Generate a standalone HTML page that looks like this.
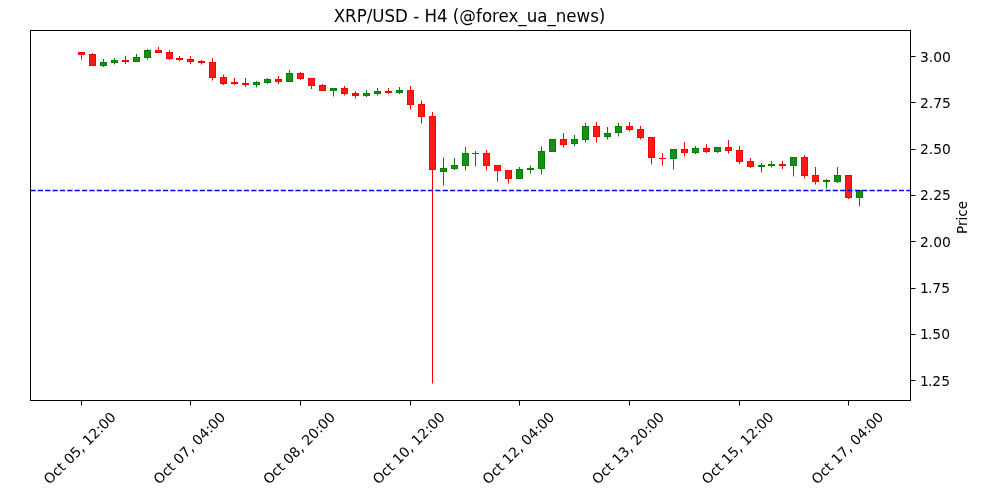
<!DOCTYPE html>
<html lang="en">
<head>
<meta charset="utf-8">
<title>XRP/USD - H4 (@forex_ua_news)</title>
<style>
html,body{margin:0;padding:0;background:#ffffff;}
body{width:1000px;height:500px;overflow:hidden;}
svg{display:block;}
text{font-family:"DejaVu Sans","Liberation Sans",sans-serif;fill:#000000;}
.t10{font-size:13.89px;}
.t12{font-size:16.67px;}
</style>
</head>
<body>
<svg width="1000" height="500" viewBox="0 0 1000 500">
<rect x="0" y="0" width="1000" height="500" fill="#ffffff"/>

<g shape-rendering="crispEdges">
<rect x="81" y="52" width="1" height="7.5" fill="#ff0000" shape-rendering="auto"/>
<rect x="78" y="52" width="7" height="3" fill="#ff0000"/>
<rect x="79" y="53" width="5" height="1" fill="#ff1a1a"/>
<rect x="92" y="53" width="1" height="13" fill="#ff0000" shape-rendering="auto"/>
<rect x="89" y="54" width="7" height="12" fill="#ff0000"/>
<rect x="90" y="55" width="5" height="10" fill="#ff1a1a"/>
<rect x="103" y="59" width="1" height="8" fill="#008000" shape-rendering="auto"/>
<rect x="100" y="62" width="7" height="4" fill="#008000"/>
<rect x="101" y="63" width="5" height="2" fill="#1a8d1a"/>
<rect x="114" y="58" width="1" height="6.5" fill="#008000" shape-rendering="auto"/>
<rect x="111" y="60" width="7" height="3" fill="#008000"/>
<rect x="112" y="61" width="5" height="1" fill="#1a8d1a"/>
<rect x="125" y="56" width="1" height="8" fill="#ff0000" shape-rendering="auto"/>
<rect x="122" y="60" width="7" height="2" fill="#ff0000"/>
<rect x="136" y="54" width="1" height="8" fill="#008000" shape-rendering="auto"/>
<rect x="133" y="57" width="7" height="5" fill="#008000"/>
<rect x="134" y="58" width="5" height="3" fill="#1a8d1a"/>
<rect x="147" y="49" width="1" height="10.5" fill="#008000" shape-rendering="auto"/>
<rect x="144" y="50" width="7" height="8" fill="#008000"/>
<rect x="145" y="51" width="5" height="6" fill="#1a8d1a"/>
<rect x="158" y="47" width="1" height="6" fill="#ff0000" shape-rendering="auto"/>
<rect x="155" y="50" width="7" height="3" fill="#ff0000"/>
<rect x="156" y="51" width="5" height="1" fill="#ff1a1a"/>
<rect x="169" y="50" width="1" height="10" fill="#ff0000" shape-rendering="auto"/>
<rect x="166" y="52" width="7" height="7" fill="#ff0000"/>
<rect x="167" y="53" width="5" height="5" fill="#ff1a1a"/>
<rect x="179" y="56" width="1" height="5" fill="#ff0000" shape-rendering="auto"/>
<rect x="176" y="58" width="7" height="2" fill="#ff0000"/>
<rect x="190" y="56" width="1" height="8" fill="#ff0000" shape-rendering="auto"/>
<rect x="187" y="59" width="7" height="3" fill="#ff0000"/>
<rect x="188" y="60" width="5" height="1" fill="#ff1a1a"/>
<rect x="201" y="60" width="1" height="4.5" fill="#ff0000" shape-rendering="auto"/>
<rect x="198" y="61" width="7" height="2" fill="#ff0000"/>
<rect x="212" y="58" width="1" height="22.5" fill="#ff0000" shape-rendering="auto"/>
<rect x="209" y="62" width="7" height="16" fill="#ff0000"/>
<rect x="210" y="63" width="5" height="14" fill="#ff1a1a"/>
<rect x="223" y="74.5" width="1" height="10.5" fill="#ff0000" shape-rendering="auto"/>
<rect x="220" y="77" width="7" height="7" fill="#ff0000"/>
<rect x="221" y="78" width="5" height="5" fill="#ff1a1a"/>
<rect x="234" y="78" width="1" height="7" fill="#ff0000" shape-rendering="auto"/>
<rect x="231" y="82" width="7" height="2" fill="#ff0000"/>
<rect x="245" y="78" width="1" height="9" fill="#ff0000" shape-rendering="auto"/>
<rect x="242" y="83" width="7" height="2" fill="#ff0000"/>
<rect x="256" y="81" width="1" height="6.5" fill="#008000" shape-rendering="auto"/>
<rect x="253" y="82" width="7" height="3" fill="#008000"/>
<rect x="254" y="83" width="5" height="1" fill="#1a8d1a"/>
<rect x="267" y="78" width="1" height="6" fill="#008000" shape-rendering="auto"/>
<rect x="264" y="79" width="7" height="4" fill="#008000"/>
<rect x="265" y="80" width="5" height="2" fill="#1a8d1a"/>
<rect x="278" y="76" width="1" height="8" fill="#ff0000" shape-rendering="auto"/>
<rect x="275" y="79" width="7" height="3" fill="#ff0000"/>
<rect x="276" y="80" width="5" height="1" fill="#ff1a1a"/>
<rect x="289" y="70" width="1" height="12" fill="#008000" shape-rendering="auto"/>
<rect x="286" y="73" width="7" height="9" fill="#008000"/>
<rect x="287" y="74" width="5" height="7" fill="#1a8d1a"/>
<rect x="300" y="72" width="1" height="8" fill="#ff0000" shape-rendering="auto"/>
<rect x="297" y="73" width="7" height="6" fill="#ff0000"/>
<rect x="298" y="74" width="5" height="4" fill="#ff1a1a"/>
<rect x="311" y="78" width="1" height="11" fill="#ff0000" shape-rendering="auto"/>
<rect x="308" y="78" width="7" height="8" fill="#ff0000"/>
<rect x="309" y="79" width="5" height="6" fill="#ff1a1a"/>
<rect x="322" y="84" width="1" height="7" fill="#ff0000" shape-rendering="auto"/>
<rect x="319" y="85" width="7" height="6" fill="#ff0000"/>
<rect x="320" y="86" width="5" height="4" fill="#ff1a1a"/>
<rect x="333" y="88" width="1" height="8.5" fill="#008000" shape-rendering="auto"/>
<rect x="330" y="88" width="7" height="3" fill="#008000"/>
<rect x="331" y="89" width="5" height="1" fill="#1a8d1a"/>
<rect x="344" y="86" width="1" height="9.5" fill="#ff0000" shape-rendering="auto"/>
<rect x="341" y="88" width="7" height="6" fill="#ff0000"/>
<rect x="342" y="89" width="5" height="4" fill="#ff1a1a"/>
<rect x="355" y="91" width="1" height="7.5" fill="#ff0000" shape-rendering="auto"/>
<rect x="352" y="93" width="7" height="3" fill="#ff0000"/>
<rect x="353" y="94" width="5" height="1" fill="#ff1a1a"/>
<rect x="366" y="90" width="1" height="7" fill="#008000" shape-rendering="auto"/>
<rect x="363" y="93" width="7" height="3" fill="#008000"/>
<rect x="364" y="94" width="5" height="1" fill="#1a8d1a"/>
<rect x="377" y="88" width="1" height="7.5" fill="#008000" shape-rendering="auto"/>
<rect x="374" y="91" width="7" height="3" fill="#008000"/>
<rect x="375" y="92" width="5" height="1" fill="#1a8d1a"/>
<rect x="388" y="88" width="1" height="6" fill="#ff0000" shape-rendering="auto"/>
<rect x="385" y="91" width="7" height="2" fill="#ff0000"/>
<rect x="399" y="87" width="1" height="7" fill="#008000" shape-rendering="auto"/>
<rect x="396" y="90" width="7" height="3" fill="#008000"/>
<rect x="397" y="91" width="5" height="1" fill="#1a8d1a"/>
<rect x="410" y="86" width="1" height="23.5" fill="#ff0000" shape-rendering="auto"/>
<rect x="407" y="90" width="7" height="15" fill="#ff0000"/>
<rect x="408" y="91" width="5" height="13" fill="#ff1a1a"/>
<rect x="421" y="100.5" width="1" height="23.0" fill="#ff0000" shape-rendering="auto"/>
<rect x="418" y="104" width="7" height="13" fill="#ff0000"/>
<rect x="419" y="105" width="5" height="11" fill="#ff1a1a"/>
<rect x="432" y="112" width="1" height="271.5" fill="#ff0000" shape-rendering="auto"/>
<rect x="429" y="116" width="7" height="54" fill="#ff0000"/>
<rect x="430" y="117" width="5" height="52" fill="#ff1a1a"/>
<rect x="443" y="157.5" width="1" height="28.0" fill="#008000" shape-rendering="auto"/>
<rect x="440" y="168" width="7" height="4" fill="#008000"/>
<rect x="441" y="169" width="5" height="2" fill="#1a8d1a"/>
<rect x="454" y="158" width="1" height="12" fill="#008000" shape-rendering="auto"/>
<rect x="451" y="165" width="7" height="4" fill="#008000"/>
<rect x="452" y="166" width="5" height="2" fill="#1a8d1a"/>
<rect x="465" y="147" width="1" height="23.5" fill="#008000" shape-rendering="auto"/>
<rect x="462" y="153" width="7" height="13" fill="#008000"/>
<rect x="463" y="154" width="5" height="11" fill="#1a8d1a"/>
<rect x="475" y="151" width="1" height="15.5" fill="#008000" shape-rendering="auto"/>
<rect x="472" y="152.5" width="7" height="1.0" fill="#008000"/>
<rect x="486" y="150" width="1" height="20.5" fill="#ff0000" shape-rendering="auto"/>
<rect x="483" y="153" width="7" height="13" fill="#ff0000"/>
<rect x="484" y="154" width="5" height="11" fill="#ff1a1a"/>
<rect x="497" y="165" width="1" height="16.5" fill="#ff0000" shape-rendering="auto"/>
<rect x="494" y="165" width="7" height="6" fill="#ff0000"/>
<rect x="495" y="166" width="5" height="4" fill="#ff1a1a"/>
<rect x="508" y="170" width="1" height="13.5" fill="#ff0000" shape-rendering="auto"/>
<rect x="505" y="170" width="7" height="9" fill="#ff0000"/>
<rect x="506" y="171" width="5" height="7" fill="#ff1a1a"/>
<rect x="519" y="167" width="1" height="12" fill="#008000" shape-rendering="auto"/>
<rect x="516" y="169" width="7" height="10" fill="#008000"/>
<rect x="517" y="170" width="5" height="8" fill="#1a8d1a"/>
<rect x="530" y="165.5" width="1" height="8.0" fill="#008000" shape-rendering="auto"/>
<rect x="527" y="168" width="7" height="2" fill="#008000"/>
<rect x="541" y="146.5" width="1" height="28.0" fill="#008000" shape-rendering="auto"/>
<rect x="538" y="151" width="7" height="18" fill="#008000"/>
<rect x="539" y="152" width="5" height="16" fill="#1a8d1a"/>
<rect x="552" y="139" width="1" height="13" fill="#008000" shape-rendering="auto"/>
<rect x="549" y="139" width="7" height="13" fill="#008000"/>
<rect x="550" y="140" width="5" height="11" fill="#1a8d1a"/>
<rect x="563" y="133" width="1" height="14.5" fill="#ff0000" shape-rendering="auto"/>
<rect x="560" y="139" width="7" height="6" fill="#ff0000"/>
<rect x="561" y="140" width="5" height="4" fill="#ff1a1a"/>
<rect x="574" y="135" width="1" height="11.5" fill="#008000" shape-rendering="auto"/>
<rect x="571" y="139" width="7" height="5" fill="#008000"/>
<rect x="572" y="140" width="5" height="3" fill="#1a8d1a"/>
<rect x="585" y="123" width="1" height="19.5" fill="#008000" shape-rendering="auto"/>
<rect x="582" y="126" width="7" height="14" fill="#008000"/>
<rect x="583" y="127" width="5" height="12" fill="#1a8d1a"/>
<rect x="596" y="122" width="1" height="20.5" fill="#ff0000" shape-rendering="auto"/>
<rect x="593" y="126" width="7" height="11" fill="#ff0000"/>
<rect x="594" y="127" width="5" height="9" fill="#ff1a1a"/>
<rect x="607" y="127" width="1" height="12.5" fill="#008000" shape-rendering="auto"/>
<rect x="604" y="133" width="7" height="4" fill="#008000"/>
<rect x="605" y="134" width="5" height="2" fill="#1a8d1a"/>
<rect x="618" y="123" width="1" height="13.5" fill="#008000" shape-rendering="auto"/>
<rect x="615" y="126" width="7" height="7" fill="#008000"/>
<rect x="616" y="127" width="5" height="5" fill="#1a8d1a"/>
<rect x="629" y="122" width="1" height="9.5" fill="#ff0000" shape-rendering="auto"/>
<rect x="626" y="126" width="7" height="4" fill="#ff0000"/>
<rect x="627" y="127" width="5" height="2" fill="#ff1a1a"/>
<rect x="640" y="126" width="1" height="13.5" fill="#ff0000" shape-rendering="auto"/>
<rect x="637" y="129" width="7" height="9" fill="#ff0000"/>
<rect x="638" y="130" width="5" height="7" fill="#ff1a1a"/>
<rect x="651" y="137" width="1" height="27.5" fill="#ff0000" shape-rendering="auto"/>
<rect x="648" y="137" width="7" height="21" fill="#ff0000"/>
<rect x="649" y="138" width="5" height="19" fill="#ff1a1a"/>
<rect x="662" y="153" width="1" height="12.5" fill="#ff0000" shape-rendering="auto"/>
<rect x="659" y="158" width="7" height="1" fill="#ff0000"/>
<rect x="673" y="149" width="1" height="20.5" fill="#008000" shape-rendering="auto"/>
<rect x="670" y="149" width="7" height="10" fill="#008000"/>
<rect x="671" y="150" width="5" height="8" fill="#1a8d1a"/>
<rect x="684" y="142" width="1" height="14.5" fill="#ff0000" shape-rendering="auto"/>
<rect x="681" y="149" width="7" height="4" fill="#ff0000"/>
<rect x="682" y="150" width="5" height="2" fill="#ff1a1a"/>
<rect x="695" y="146" width="1" height="8" fill="#008000" shape-rendering="auto"/>
<rect x="692" y="148" width="7" height="5" fill="#008000"/>
<rect x="693" y="149" width="5" height="3" fill="#1a8d1a"/>
<rect x="706" y="144" width="1" height="9" fill="#ff0000" shape-rendering="auto"/>
<rect x="703" y="148" width="7" height="4" fill="#ff0000"/>
<rect x="704" y="149" width="5" height="2" fill="#ff1a1a"/>
<rect x="717" y="147" width="1" height="6" fill="#008000" shape-rendering="auto"/>
<rect x="714" y="147" width="7" height="5" fill="#008000"/>
<rect x="715" y="148" width="5" height="3" fill="#1a8d1a"/>
<rect x="728" y="140" width="1" height="13.5" fill="#ff0000" shape-rendering="auto"/>
<rect x="725" y="147" width="7" height="4" fill="#ff0000"/>
<rect x="726" y="148" width="5" height="2" fill="#ff1a1a"/>
<rect x="739" y="146" width="1" height="18" fill="#ff0000" shape-rendering="auto"/>
<rect x="736" y="150" width="7" height="12" fill="#ff0000"/>
<rect x="737" y="151" width="5" height="10" fill="#ff1a1a"/>
<rect x="750" y="158" width="1" height="10" fill="#ff0000" shape-rendering="auto"/>
<rect x="747" y="161" width="7" height="6" fill="#ff0000"/>
<rect x="748" y="162" width="5" height="4" fill="#ff1a1a"/>
<rect x="761" y="163" width="1" height="9.5" fill="#008000" shape-rendering="auto"/>
<rect x="758" y="165" width="7" height="2" fill="#008000"/>
<rect x="771" y="161" width="1" height="6.5" fill="#008000" shape-rendering="auto"/>
<rect x="768" y="164" width="7" height="2" fill="#008000"/>
<rect x="782" y="161" width="1" height="8" fill="#ff0000" shape-rendering="auto"/>
<rect x="779" y="164" width="7" height="2" fill="#ff0000"/>
<rect x="793" y="157" width="1" height="19.5" fill="#008000" shape-rendering="auto"/>
<rect x="790" y="157" width="7" height="9" fill="#008000"/>
<rect x="791" y="158" width="5" height="7" fill="#1a8d1a"/>
<rect x="804" y="155" width="1" height="23.5" fill="#ff0000" shape-rendering="auto"/>
<rect x="801" y="157" width="7" height="19" fill="#ff0000"/>
<rect x="802" y="158" width="5" height="17" fill="#ff1a1a"/>
<rect x="815" y="167" width="1" height="17.5" fill="#ff0000" shape-rendering="auto"/>
<rect x="812" y="175" width="7" height="7" fill="#ff0000"/>
<rect x="813" y="176" width="5" height="5" fill="#ff1a1a"/>
<rect x="826" y="179" width="1" height="9.5" fill="#008000" shape-rendering="auto"/>
<rect x="823" y="180" width="7" height="2" fill="#008000"/>
<rect x="837" y="167" width="1" height="16" fill="#008000" shape-rendering="auto"/>
<rect x="834" y="175" width="7" height="7" fill="#008000"/>
<rect x="835" y="176" width="5" height="5" fill="#1a8d1a"/>
<rect x="848" y="175" width="1" height="24" fill="#ff0000" shape-rendering="auto"/>
<rect x="845" y="175" width="7" height="23" fill="#ff0000"/>
<rect x="846" y="176" width="5" height="21" fill="#ff1a1a"/>
<rect x="859" y="190" width="1" height="16.5" fill="#008000" shape-rendering="auto"/>
<rect x="856" y="190" width="7" height="8" fill="#008000"/>
<rect x="857" y="191" width="5" height="6" fill="#1a8d1a"/>
</g>
<line x1="30.5" y1="190.5" x2="910.5" y2="190.5" stroke="#0000ff" stroke-width="1.39" stroke-dasharray="5.14 2.22"/>
<g shape-rendering="crispEdges" fill="#000000">
<rect x="30" y="30" width="881" height="1"/>
<rect x="30" y="400" width="881" height="1"/>
<rect x="30" y="30" width="1" height="371"/>
<rect x="910" y="30" width="1" height="371"/>
<rect x="911" y="56" width="4.5" height="1" shape-rendering="auto"/>
<rect x="911" y="102" width="4.5" height="1" shape-rendering="auto"/>
<rect x="911" y="149" width="4.5" height="1" shape-rendering="auto"/>
<rect x="911" y="195" width="4.5" height="1" shape-rendering="auto"/>
<rect x="911" y="241" width="4.5" height="1" shape-rendering="auto"/>
<rect x="911" y="288" width="4.5" height="1" shape-rendering="auto"/>
<rect x="911" y="334" width="4.5" height="1" shape-rendering="auto"/>
<rect x="911" y="380" width="4.5" height="1" shape-rendering="auto"/>
<rect x="81" y="401" width="1" height="4.5" shape-rendering="auto"/>
<rect x="190" y="401" width="1" height="4.5" shape-rendering="auto"/>
<rect x="300" y="401" width="1" height="4.5" shape-rendering="auto"/>
<rect x="410" y="401" width="1" height="4.5" shape-rendering="auto"/>
<rect x="519" y="401" width="1" height="4.5" shape-rendering="auto"/>
<rect x="629" y="401" width="1" height="4.5" shape-rendering="auto"/>
<rect x="739" y="401" width="1" height="4.5" shape-rendering="auto"/>
<rect x="848" y="401" width="1" height="4.5" shape-rendering="auto"/>
</g>
<text class="t12" transform="translate(469.5 22) scale(1 1.08)" x="0" y="0" text-anchor="middle">XRP/USD - H4 (@forex_ua_news)</text>
<text class="t10" x="920" y="62">3.00</text>
<text class="t10" x="920" y="108">2.75</text>
<text class="t10" x="920" y="154">2.50</text>
<text class="t10" x="920" y="200">2.25</text>
<text class="t10" x="920" y="247">2.00</text>
<text class="t10" x="920" y="293" dx="0 -0.9 0 0">1.75</text>
<text class="t10" x="920" y="339" dx="0 -0.9 0 0">1.50</text>
<text class="t10" x="920" y="386" dx="0 -0.9 0 0">1.25</text>
<text class="t10" text-anchor="middle" transform="translate(79.6 448) rotate(-45)" x="0" y="5">Oct 05, 12:00</text>
<text class="t10" text-anchor="middle" transform="translate(189.25 448) rotate(-45)" x="0" y="5">Oct 07, 04:00</text>
<text class="t10" text-anchor="middle" transform="translate(298.9 448) rotate(-45)" x="0" y="5">Oct 08, 20:00</text>
<text class="t10" text-anchor="middle" transform="translate(408.55 448) rotate(-45)" x="0" y="5">Oct 10, 12:00</text>
<text class="t10" text-anchor="middle" transform="translate(518.2 448) rotate(-45)" x="0" y="5">Oct 12, 04:00</text>
<text class="t10" text-anchor="middle" transform="translate(627.85 448) rotate(-45)" x="0" y="5">Oct 13, 20:00</text>
<text class="t10" text-anchor="middle" transform="translate(737.5 448) rotate(-45)" x="0" y="5">Oct 15, 12:00</text>
<text class="t10" text-anchor="middle" transform="translate(847.15 448) rotate(-45)" x="0" y="5">Oct 17, 04:00</text>
<text class="t10" text-anchor="middle" transform="translate(967 217.5) rotate(-90)" x="0" y="0" textLength="32.9" lengthAdjust="spacingAndGlyphs">Price</text>
</svg>
</body>
</html>
